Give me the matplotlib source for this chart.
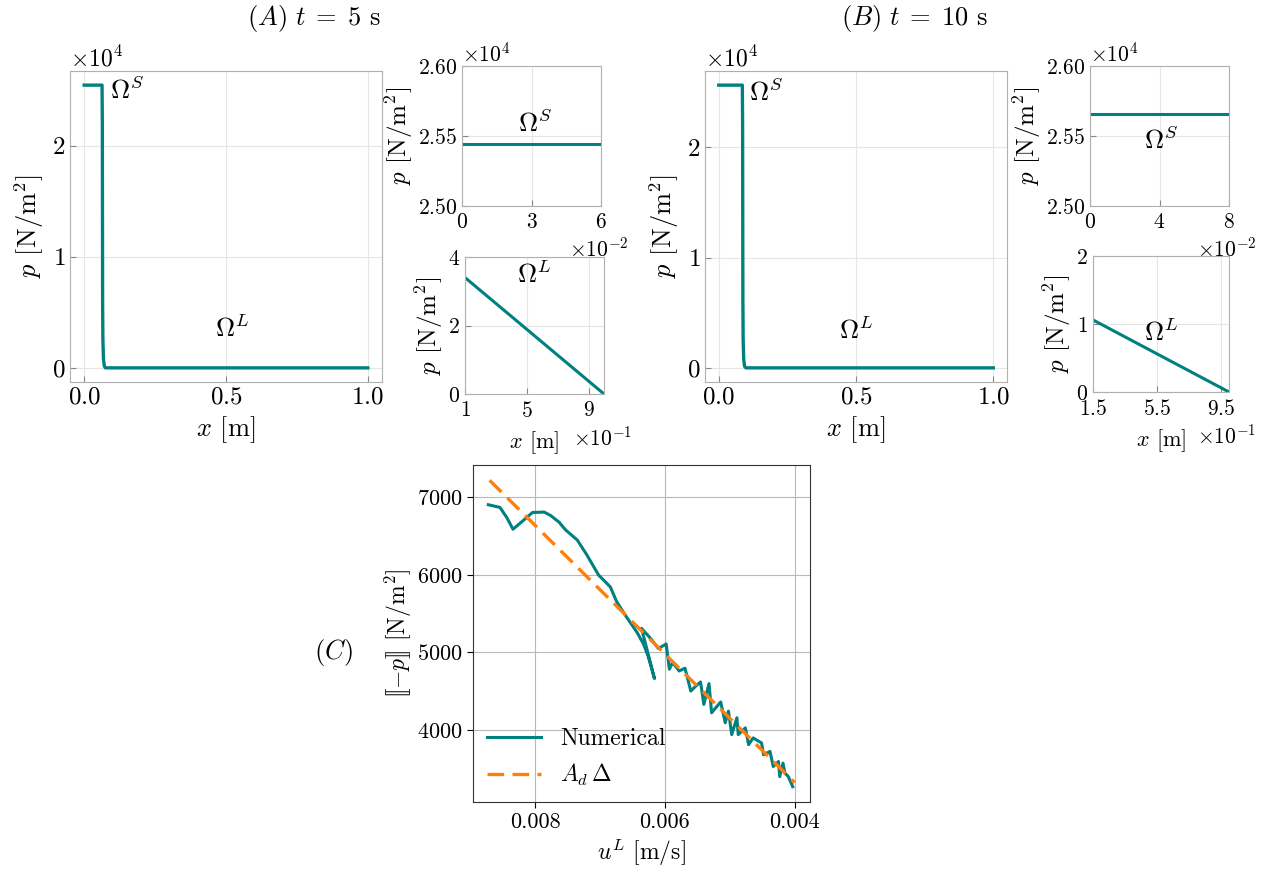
import matplotlib
matplotlib.use("Agg")
import matplotlib.pyplot as plt
import numpy as np

plt.rcParams['font.family'] = 'serif'
plt.rcParams['font.serif'] = ['cmr10']
plt.rcParams['mathtext.fontset'] = 'cm'
plt.rcParams['axes.formatter.use_mathtext'] = True
plt.rcParams['axes.unicode_minus'] = True

TEAL = '#00807f'
ORANGE = '#ff7f0e'

# panel A, t = 5 s
x_A = [0.0, 0.063, 0.064, 0.065, 0.066, 0.068, 0.071, 0.075, 1.0]
p_A = [25440, 25440, 22000, 6000, 2500, 800, 150, 0, 0]
xS_A = [0.0, 0.06]
pS_A = [25440, 25440]
xL_A = [0.1, 1.0]
pL_A = [3.4, 0.0]

# panel B, t = 10 s
x_B = [0.0, 0.086, 0.087, 0.088, 0.089, 0.091, 0.094, 0.099, 1.0]
p_B = [25660, 25660, 22000, 6000, 2500, 800, 150, 0, 0]
xS_B = [0.0, 0.08]
pS_B = [25660, 25660]
xL_B = [0.15, 1.0]
pL_B = [1.06, 0.0]

# panel C, jump vs velocity
u_num = [0.00872, 0.00854, 0.00843, 0.00834, 0.00817, 0.00804, 0.00786, 0.00776,
         0.00763, 0.00753, 0.00735, 0.00720, 0.00702, 0.00694, 0.00684, 0.00674,
         0.00659, 0.00643, 0.00633, 0.00626, 0.00616,
         0.00636, 0.00622, 0.00610, 0.00598, 0.00593, 0.00588, 0.00578, 0.00569,
         0.00560, 0.00553, 0.00545, 0.00540, 0.00532, 0.00528, 0.00514, 0.00507,
         0.00502, 0.00497, 0.00489, 0.00487, 0.00476, 0.00471, 0.00464, 0.00451,
         0.00448, 0.00438, 0.00433, 0.00425, 0.00423, 0.00418, 0.00415, 0.00410,
         0.00403]
p_num = [6905, 6870, 6732, 6589, 6710, 6805, 6810, 6766,
         6680, 6580, 6450, 6255, 5996, 5930, 5844, 5650,
         5455, 5260, 5108, 4957, 4662,
         5310, 5180, 5050, 5108, 4783, 4870, 4760, 4796,
         4501, 4560, 4618, 4329, 4597, 4221, 4360, 4091,
         4242, 3939, 4156, 3939, 4026, 3809, 3896, 3831,
         3679, 3722, 3527, 3592, 3397, 3571, 3441, 3400,
         3267]
u_fit = [0.00870, 0.00400]
p_fit = [7220, 3320]

W, H = 1270, 869
fig = plt.figure(figsize=(W / 100, H / 100), dpi=100)


def rect(l, r, t, b):
    return [l / W, 1 - b / H, (r - l) / W, (b - t) / H]


def light_style(ax, fs):
    for s in ax.spines.values():
        s.set_color('#b0b0b0')
    ax.grid(True, color='#e6e6e6', lw=0.8)
    ax.set_axisbelow(True)
    ax.tick_params(direction='in', length=4, color='#888888', labelsize=fs)


def main_panel(pos, x, p, xs, ys, xl, yl):
    ax = fig.add_axes(pos)
    ax.plot(x, p, color=TEAL, lw=2.4)
    light_style(ax, 18)
    ax.set_xticks([0.0, 0.5, 1.0])
    ax.set_yticks([0, 10000, 20000])
    ax.ticklabel_format(axis='y', style='sci', scilimits=(0, 0))
    ax.yaxis.get_offset_text().set_fontsize(17)
    ax.set_xlabel(r'$x$ [m]', fontsize=19)
    ax.set_ylabel(r'$p$ [N/m$^2$]', fontsize=19)
    ax.text(xs, ys, r'$\Omega^S$', fontsize=19, ha='left', va='center')
    ax.text(xl, yl, r'$\Omega^L$', fontsize=19, ha='center', va='center')
    return ax


def inset(pos, x, p, xlim, ylim, xt, yt, lab, lx, ly, xlabel):
    ax = fig.add_axes(pos)
    ax.plot(x, p, color=TEAL, lw=2.2)
    light_style(ax, 15.5)
    ax.tick_params(axis='x', pad=5)
    ax.set_xlim(xlim)
    ax.set_ylim(ylim)
    ax.set_xticks(xt)
    ax.set_yticks(yt)
    ax.ticklabel_format(style='sci', scilimits=(0, 0), useOffset=False)
    off = ax.xaxis.get_offset_text()
    off.set_fontsize(15.5)
    off.set_x(1.2)
    ax.yaxis.get_offset_text().set_fontsize(15.5)
    ax.set_ylabel(r'$p$ [N/m$^2$]', fontsize=18, labelpad=2)
    if xlabel:
        ax.set_xlabel(r'$x$ [m]', fontsize=16)
        ax.xaxis.set_label_coords(0.5, -0.26)
    ax.text(lx, ly, lab, fontsize=19, ha='center', va='center')
    return ax


main_panel(rect(70, 382, 71, 382), x_A, p_A, 0.09, 25000, 0.52, 3600)
inset(rect(462, 601, 66, 206), xS_A, pS_A, (0, 0.06), (25000, 26000),
      [0, 0.03, 0.06], [25000, 25500, 26000], r'$\Omega^S$', 0.0315, 25590, False)
inset(rect(465, 604, 257, 394), xL_A, pL_A, (0.1, 1.0), (0, 4),
      [0.1, 0.5, 0.9], [0, 2, 4], r'$\Omega^L$', 0.55, 3.5, True)

main_panel(rect(705, 1007, 71, 382), x_B, p_B, 0.11, 25000, 0.5, 3400)
inset(rect(1090, 1229, 66, 206), xS_B, pS_B, (0, 0.08), (25000, 26000),
      [0, 0.04, 0.08], [25000, 25500, 26000], r'$\Omega^S$', 0.041, 25470, False)
inset(rect(1093, 1229, 256, 392), xL_B, pL_B, (0.15, 1.0), (0, 2),
      [0.15, 0.55, 0.95], [0, 1, 2], r'$\Omega^L$', 0.575, 0.88, True)

fig.text(314 / W, 1 - 18 / H, r'$(A)\ t\;=\;5$ s', fontsize=19, ha='center', va='center')
fig.text(915 / W, 1 - 18 / H, r'$(B)\ t\;=\;10$ s', fontsize=19, ha='center', va='center')
fig.text(333 / W, 1 - 652 / H, r'$(C)$', fontsize=19, ha='center', va='center')

axC = fig.add_axes(rect(473, 810, 465, 802))
axC.plot(u_num, p_num, color=TEAL, lw=2.2, label='Numerical')
axC.plot(u_fit, p_fit, color=ORANGE, lw=2.4, dashes=(5, 2.5), label=r'$A_d\,\Delta$')
axC.invert_xaxis()
axC.set_xticks([0.008, 0.006, 0.004])
axC.set_xticklabels(['0.008', '0.006', '0.004'])
axC.set_yticks([4000, 5000, 6000, 7000])
axC.grid(True, color='#b8b8b8', lw=0.8)
for s in axC.spines.values():
    s.set_color('#333333')
axC.tick_params(direction='out', length=4, labelsize=16)
axC.set_xlabel(r'$u^L$ [m/s]', fontsize=17)
axC.set_ylabel(r'$[\![-p]\!]$ [N/m$^2$]', fontsize=17, labelpad=2)
axC.legend(loc='lower left', frameon=False, fontsize=17, handlelength=2.3,
           borderaxespad=0.2)

fig.savefig('out.png', dpi=100)
